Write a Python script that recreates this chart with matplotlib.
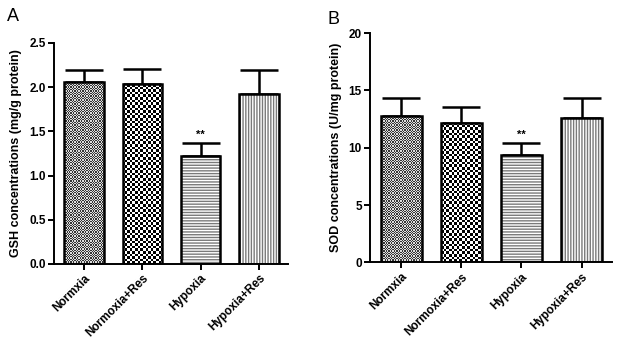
import numpy as np
import matplotlib
matplotlib.use('Agg')
import matplotlib.pyplot as plt

groups = ['Normxia', 'Normoxia+Res', 'Hypoxia', 'Hypoxia+Res']
gsh_mean = [2.06, 2.03, 1.22, 1.92]
gsh_err = [0.13, 0.17, 0.15, 0.27]
sod_mean = [12.8, 12.2, 9.4, 12.6]
sod_err = [1.5, 1.4, 1.0, 1.7]

plt.rcParams['font.family'] = ['Liberation Sans', 'DejaVu Sans']
plt.rcParams['font.weight'] = 'bold'
plt.rcParams['hatch.linewidth'] = 1.0

#-------------------------------------------------------------------------------

def checker(ax, bar, cells, lo, hi):
    # checkerboard fill clipped to the bar outline
    nx, ny = cells
    board = (np.add.outer(np.arange(ny), np.arange(nx)) % 2).astype(float)
    x0, x1 = ax.get_xlim()
    y0, y1 = ax.get_ylim()
    im = ax.imshow(board, cmap='gray', vmin=-lo, vmax=1 + (1 - hi), extent=(x0, x1, y0, y1),
                   origin='lower', aspect='auto', interpolation='nearest', zorder=1)
    im.set_clip_path(bar)


def panel(ax, means, errs, ymax, ystep, ylabel, fine):
    x = np.arange(len(groups))
    ax.set_xlim(-0.52, 3.5)
    ax.set_ylim(0, ymax)
    ax.errorbar(x, means, yerr=[np.zeros(len(errs)), errs], fmt='none', ecolor='black',
                elinewidth=1.8, capsize=14, capthick=1.8, zorder=0)
    bars = ax.bar(x, means, width=0.68, facecolor='white', edgecolor='none', zorder=1)
    checker(ax, bars[0], fine, 0.3, 0.8)
    checker(ax, bars[1], (fine[0] // 2, fine[1] // 2), 0.0, 1.0)
    ax.bar(x[2], means[2], width=0.68, facecolor='white', edgecolor='#7a7a7a',
           hatch='------', linewidth=0, zorder=1.5)
    ax.bar(x[3], means[3], width=0.68, facecolor='white', edgecolor='#7a7a7a',
           hatch='||||||', linewidth=0, zorder=1.5)
    ax.bar(x, means, width=0.68, facecolor='none', edgecolor='black', linewidth=1.8, zorder=2)
    ax.text(x[2], means[2] + errs[2] + ymax * 0.015, '**', ha='center', va='bottom',
            fontsize=8, fontweight='bold')

    for s in ['top', 'right']:
        ax.spines[s].set_visible(False)
    for s in ['left', 'bottom']:
        ax.spines[s].set_linewidth(1.4)
    ax.set_yticks(np.arange(0, ymax + ystep / 2, ystep))
    ax.set_xticks(x)
    ax.set_xticklabels(groups, rotation=45, ha='right', rotation_mode='anchor',
                       fontsize=8.5, fontweight='bold')
    for lab in ax.get_yticklabels():
        lab.set_fontweight('bold')
    ax.tick_params(axis='both', width=1.4, length=4, labelsize=8.5, pad=2)
    ax.set_ylabel(ylabel, fontsize=9, fontweight='bold', labelpad=5)

#-------------------------------------------------------------------------------

fig = plt.figure(figsize=(6.19, 3.44), dpi=100)
ax1 = fig.add_axes([0.0872, 0.2326, 0.378, 0.643])
ax2 = fig.add_axes([0.598, 0.2375, 0.390, 0.666])

panel(ax1, gsh_mean, gsh_err, 2.5, 0.5, 'GSH concentrations (mg/g protein)', (180, 170))
panel(ax2, sod_mean, sod_err, 20, 5, 'SOD concentrations (U/mg protein)', (185, 175))

fig.text(0.011, 0.94, 'A', fontsize=13, fontweight='normal')
fig.text(0.529, 0.93, 'B', fontsize=13, fontweight='normal')

fig.savefig('out.png', dpi=100)
